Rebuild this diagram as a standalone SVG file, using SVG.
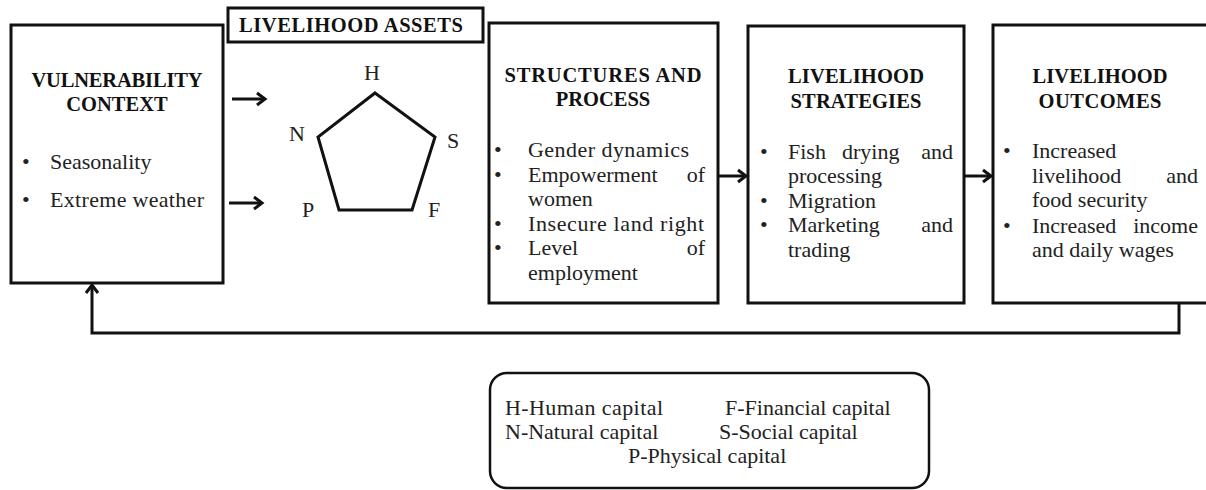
<svg xmlns="http://www.w3.org/2000/svg" width="1206" height="490" viewBox="0 0 1206 490">
<style>
.box{fill:#fff;stroke:#111;stroke-width:3}
.t{font-family:"Liberation Serif","Times New Roman",serif;font-size:22px;fill:#222}
.h{font-family:"Liberation Serif","Times New Roman",serif;font-size:20.5px;font-weight:bold;fill:#111}
.c{text-anchor:middle}
.e{text-anchor:end}
.ln{fill:none;stroke:#111;stroke-width:3}
.ah{fill:none;stroke:#111;stroke-width:3;stroke-linejoin:miter}
</style>
<rect width="1206" height="490" fill="#fff"/>
<g id="vulnerability">
<rect class="box" x="11" y="25" width="212" height="258"/>
<text class="h c" x="117" y="87" textLength="171">VULNERABILITY</text>
<text class="h c" x="117" y="111">CONTEXT</text>
<text class="t" x="22" y="169">•</text><text class="t" x="50" y="169">Seasonality</text>
<text class="t" x="22" y="207">•</text><text class="t" x="50" y="207" textLength="154">Extreme weather</text>
</g>
<g id="assets">
<rect class="box" x="228" y="8" width="255" height="34"/>
<text class="h" x="239" y="32" textLength="224">LIVELIHOOD  ASSETS</text>
<polygon class="ln" points="375,93 435,137 412,210 339,210 318,137"/>
<text class="t c" x="372" y="80">H</text>
<text class="t c" x="297" y="141">N</text>
<text class="t c" x="453" y="148">S</text>
<text class="t c" x="308" y="217">P</text>
<text class="t c" x="434" y="217">F</text>
</g>
<g id="structures">
<rect class="box" x="489" y="23" width="229" height="280"/>
<text class="h c" x="603" y="82" textLength="197">STRUCTURES AND</text>
<text class="h c" x="603" y="106">PROCESS</text>
<text class="t" x="494" y="157">•</text><text class="t" x="528" y="157" textLength="161">Gender dynamics</text>
<text class="t" x="494" y="182">•</text><text class="t" x="528" y="182">Empowerment</text><text class="t e" x="705" y="182">of</text>
<text class="t" x="528" y="206">women</text>
<text class="t" x="494" y="231">•</text><text class="t" x="528" y="231" textLength="176">Insecure land right</text>
<text class="t" x="494" y="255">•</text><text class="t" x="528" y="255">Level</text><text class="t e" x="705" y="255">of</text>
<text class="t" x="528" y="280">employment</text>
</g>
<g id="strategies">
<rect class="box" x="748" y="26" width="216" height="277"/>
<text class="h c" x="856" y="83" textLength="136">LIVELIHOOD</text>
<text class="h c" x="856" y="108" textLength="131">STRATEGIES</text>
<text class="t" x="760" y="159">•</text><text class="t" x="788" y="159">Fish</text><text class="t" x="842" y="159">drying</text><text class="t e" x="953" y="159">and</text>
<text class="t" x="788" y="183">processing</text>
<text class="t" x="760" y="208">•</text><text class="t" x="788" y="208">Migration</text>
<text class="t" x="760" y="232">•</text><text class="t" x="788" y="232">Marketing</text><text class="t e" x="953" y="232">and</text>
<text class="t" x="788" y="257">trading</text>
</g>
<g id="outcomes">
<rect class="box" x="993" y="25" width="240" height="278"/>
<text class="h c" x="1100" y="83" textLength="135">LIVELIHOOD</text>
<text class="h c" x="1100" y="108" textLength="123">OUTCOMES</text>
<text class="t" x="1003" y="158">•</text><text class="t" x="1032" y="158">Increased</text>
<text class="t" x="1032" y="183">livelihood</text><text class="t e" x="1198" y="183">and</text>
<text class="t" x="1032" y="207">food security</text>
<text class="t" x="1003" y="233">•</text><text class="t" x="1032" y="233">Increased</text><text class="t e" x="1198" y="233">income</text>
<text class="t" x="1032" y="257">and daily wages</text>
</g>
<g id="connectors">
<path class="ln" d="M232,99 H264"/><path class="ah" d="M257,93 L265,99 L257,105"/>
<path class="ln" d="M229,203 H261"/><path class="ah" d="M254,197 L262,203 L254,209"/>
<path class="ln" d="M718,176 H745"/><path class="ah" d="M738,170 L746,176 L738,182"/>
<path class="ln" d="M964,176 H990"/><path class="ah" d="M983,170 L991,176 L983,182"/>
<path class="ln" d="M1179,303 V333 H92 V287"/><path class="ah" d="M86,293 L92,285 L98,293"/>
</g>
<g id="legend">
<rect x="490" y="373" width="439" height="115" rx="17" ry="17" fill="#fff" stroke="#111" stroke-width="2.5"/>
<text class="t" x="505" y="415" textLength="158">H-Human capital</text>
<text class="t" x="725" y="415">F-Financial capital</text>
<text class="t" x="505" y="439">N-Natural capital</text>
<text class="t" x="719" y="439">S-Social capital</text>
<text class="t" x="628" y="463">P-Physical capital</text>
</g>
</svg>
